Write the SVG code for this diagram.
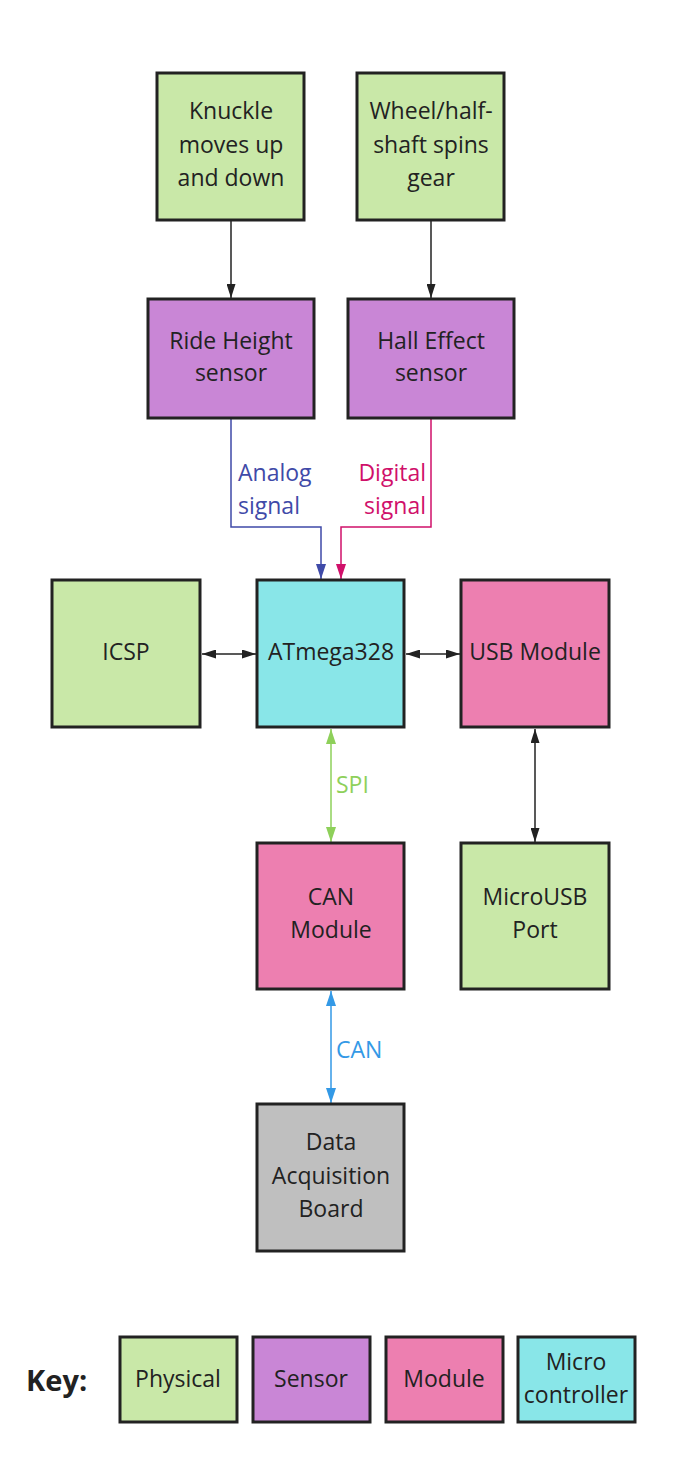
<svg xmlns="http://www.w3.org/2000/svg" width="679" height="1471" viewBox="0 0 679 1471">
<style>
.box{stroke:#222;stroke-width:3}
.phys{fill:#c9e8a8}
.sens{fill:#c986d6}
.mod{fill:#ed7fb0}
.mcu{fill:#89e6e8}
.gray{fill:#bfbfbf}
text{font-family:"Open Sans","Noto Sans","DejaVu Sans",sans-serif;font-size:23px;fill:#222}
.c{text-anchor:middle}
.ln{fill:none;stroke-width:1.5}
</style>
<defs>
<marker id="ak" viewBox="0 0 14 9" refX="14" refY="4.5" markerWidth="14" markerHeight="9" markerUnits="userSpaceOnUse" orient="auto-start-reverse"><path d="M0,0 L14,4.5 L0,9 z" fill="#222"/></marker>
<marker id="ab" viewBox="0 0 15 10" refX="15" refY="5" markerWidth="15" markerHeight="10" markerUnits="userSpaceOnUse" orient="auto-start-reverse"><path d="M0,0 L15,5 L0,10 z" fill="#3f4aa8"/></marker>
<marker id="ad" viewBox="0 0 15 10" refX="15" refY="5" markerWidth="15" markerHeight="10" markerUnits="userSpaceOnUse" orient="auto-start-reverse"><path d="M0,0 L15,5 L0,10 z" fill="#d0106a"/></marker>
<marker id="ag" viewBox="0 0 15 10" refX="15" refY="5" markerWidth="15" markerHeight="10" markerUnits="userSpaceOnUse" orient="auto-start-reverse"><path d="M0,0 L15,5 L0,10 z" fill="#8ed05a"/></marker>
<marker id="ac" viewBox="0 0 15 10" refX="15" refY="5" markerWidth="15" markerHeight="10" markerUnits="userSpaceOnUse" orient="auto-start-reverse"><path d="M0,0 L15,5 L0,10 z" fill="#3399e6"/></marker>
</defs>
<rect width="679" height="1471" fill="#fff"/>
<g id="connectors">
<path class="ln" stroke="#222" d="M231,221 V298" marker-end="url(#ak)"/>
<path class="ln" stroke="#222" d="M431,221 V298" marker-end="url(#ak)"/>
<path class="ln" stroke="#3f4aa8" d="M231,419 V527 H321 V579" marker-end="url(#ab)"/>
<path class="ln" stroke="#d0106a" d="M431,419 V527 H341 V579" marker-end="url(#ad)"/>
<path class="ln" stroke="#222" d="M202,654 H256" marker-start="url(#ak)" marker-end="url(#ak)"/>
<path class="ln" stroke="#222" d="M406,654 H460" marker-start="url(#ak)" marker-end="url(#ak)"/>
<path class="ln" stroke="#222" d="M535,729 V842" marker-start="url(#ak)" marker-end="url(#ak)"/>
<path class="ln" stroke="#8ed05a" d="M331,729 V842" marker-start="url(#ag)" marker-end="url(#ag)"/>
<path class="ln" stroke="#3399e6" d="M331,991 V1103" marker-start="url(#ac)" marker-end="url(#ac)"/>
<text x="238" y="481" style="fill:#3f4aa8">Analog</text>
<text x="238" y="514" style="fill:#3f4aa8">signal</text>
<text x="426" y="481" text-anchor="end" style="fill:#d0106a">Digital</text>
<text x="426" y="514" text-anchor="end" style="fill:#d0106a">signal</text>
<text x="336" y="793" style="fill:#8ed05a">SPI</text>
<text x="336" y="1058" style="fill:#3399e6">CAN</text>
</g>
<g id="knuckle"><rect class="box phys" x="157" y="73" width="147" height="147"/><text class="c" x="231" y="119">Knuckle</text><text class="c" x="231" y="153">moves up</text><text class="c" x="231" y="186">and down</text></g>
<g id="wheel"><rect class="box phys" x="357" y="73" width="147" height="147"/><text class="c" x="431" y="119">Wheel/half-</text><text class="c" x="431" y="153">shaft spins</text><text class="c" x="431" y="186">gear</text></g>
<g id="rideheight"><rect class="box sens" x="148" y="299" width="166" height="119"/><text class="c" x="231" y="349">Ride Height</text><text class="c" x="231" y="381">sensor</text></g>
<g id="hall"><rect class="box sens" x="348" y="299" width="166" height="119"/><text class="c" x="431" y="349">Hall Effect</text><text class="c" x="431" y="381">sensor</text></g>
<g id="icsp"><rect class="box phys" x="52" y="580" width="148" height="147"/><text class="c" x="126" y="660">ICSP</text></g>
<g id="atmega"><rect class="box mcu" x="257" y="580" width="147" height="147"/><text class="c" x="331" y="660">ATmega328</text></g>
<g id="usb"><rect class="box mod" x="461" y="580" width="148" height="147"/><text class="c" x="535" y="660">USB Module</text></g>
<g id="can"><rect class="box mod" x="257" y="843" width="147" height="146"/><text class="c" x="331" y="905">CAN</text><text class="c" x="331" y="938">Module</text></g>
<g id="microusb"><rect class="box phys" x="461" y="843" width="148" height="146"/><text class="c" x="535" y="905">MicroUSB</text><text class="c" x="535" y="938">Port</text></g>
<g id="daq"><rect class="box gray" x="257" y="1104" width="147" height="147"/><text class="c" x="331" y="1150">Data</text><text class="c" x="331" y="1184">Acquisition</text><text class="c" x="331" y="1217">Board</text></g>
<g id="key">
<text x="26" y="1391" style="font-weight:bold;font-size:29px">Key:</text>
<rect class="box phys" x="120" y="1337" width="117" height="85"/><text class="c" x="178" y="1387">Physical</text>
<rect class="box sens" x="253" y="1337" width="117" height="85"/><text class="c" x="311" y="1387">Sensor</text>
<rect class="box mod" x="386" y="1337" width="117" height="85"/><text class="c" x="444" y="1387">Module</text>
<rect class="box mcu" x="518" y="1337" width="117" height="85"/><text class="c" x="576" y="1370">Micro</text><text class="c" x="576" y="1403">controller</text>
</g>
</svg>
